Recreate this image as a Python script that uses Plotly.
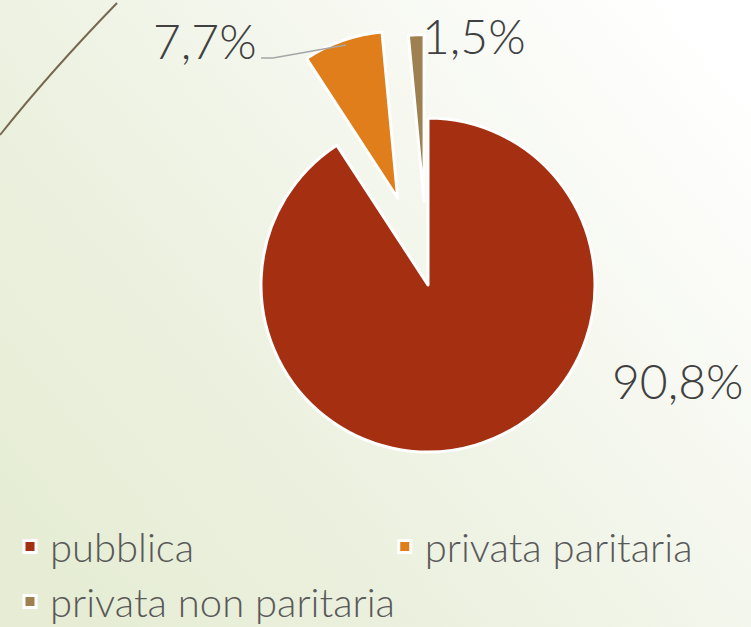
import base64
import plotly.graph_objects as go

W, H = 751, 627

# ---- data ----
categories = ["pubblica", "privata paritaria", "privata non paritaria"]
shares = [90.8, 7.7, 1.5]
colors = ["#a52f11", "#df7e1a", "#9f8050"]
pulls = [0, 0.55, 0.5]

def fmt(v):
    return f"{v:.1f}".replace(".", ",") + "%"

def px(x, y):
    return x / W, 1 - y / H

# background gradient as svg image
svg = f'''<svg xmlns="http://www.w3.org/2000/svg" width="{W}" height="{H}" viewBox="0 0 {W} {H}" preserveAspectRatio="none">
<defs><linearGradient id="g" x1="0" y1="0.85" x2="1" y2="0.15">
<stop offset="0" stop-color="#e6edd4"/>
<stop offset="0.35" stop-color="#ecf1e0"/>
<stop offset="0.68" stop-color="#f6f8f0"/>
<stop offset="1" stop-color="#ffffff"/>
</linearGradient></defs>
<rect width="{W}" height="{H}" fill="url(#g)"/></svg>'''
bg_src = "data:image/svg+xml;base64," + base64.b64encode(svg.encode()).decode()

# pie geometry: centre (428,285) radius 167 px
cx, cy, r = 428, 285, 167
half = r * (1 + max(pulls))
dx0, dy0 = px(cx - half, cy + half)
dx1, dy1 = px(cx + half, cy - half)

fig = go.Figure()
fig.add_trace(go.Pie(
    labels=categories,
    values=shares,
    sort=False,
    direction="clockwise",
    rotation=0,
    pull=pulls,
    marker=dict(colors=colors, line=dict(color="#ffffff", width=3)),
    textinfo="none",
    hoverinfo="label+percent",
    domain=dict(x=[dx0, dx1], y=[dy0, dy1]),
))

label_pos = [(677, 380), (205, 41), (474, 35)]
annotations = []
for v, (lx, ly) in zip(shares, label_pos):
    ax, ay = px(lx, ly)
    annotations.append(dict(
        x=ax, y=ay, xref="paper", yref="paper", text=fmt(v), showarrow=False,
        xanchor="center", yanchor="middle",
        font=dict(family="Lato, 'DejaVu Sans', sans-serif", size=48, color="#404040", weight=300),
    ))

def path(points, curve=False):
    pts = [px(x, y) for x, y in points]
    if curve:
        (a, b), (c, d), (e, f) = pts
        return f"M {a},{b} Q {c},{d} {e},{f}"
    return "M " + " L ".join(f"{a},{b}" for a, b in pts)

shapes = [
    dict(type="path", xref="paper", yref="paper",
         path=path([(261, 58), (273, 58), (346, 45)]),
         line=dict(color="#a6a6a6", width=1.5)),
    dict(type="path", xref="paper", yref="paper",
         path=path([(0, 135), (50, 72), (117, 3)], curve=True),
         line=dict(color="#76684f", width=2)),
]

lx0, _ = px(10, 0)
_, ly0 = px(0, 514)

fig.update_layout(
    width=W, height=H,
    margin=dict(l=0, r=0, t=0, b=0, autoexpand=False),
    paper_bgcolor="#f3f6ec",
    plot_bgcolor="rgba(0,0,0,0)",
    separators=",.",
    images=[dict(source=bg_src, xref="paper", yref="paper", x=0, y=1,
                 sizex=1, sizey=1, xanchor="left", yanchor="top",
                 sizing="stretch", layer="below")],
    annotations=annotations,
    shapes=shapes,
    showlegend=True,
    legend=dict(
        orientation="h",
        x=lx0, xanchor="left",
        y=ly0, yanchor="top",
        entrywidth=0.499, entrywidthmode="fraction",
        font=dict(family="Lato, 'DejaVu Sans', sans-serif", size=40, color="#595959", weight=300),
        bgcolor="rgba(0,0,0,0)",
        traceorder="normal",
    ),
)

fig.write_html(
    "out.html",
    config={"displayModeBar": False},
    post_script="document.body.style.margin='0';document.body.style.overflow='hidden';",
)
